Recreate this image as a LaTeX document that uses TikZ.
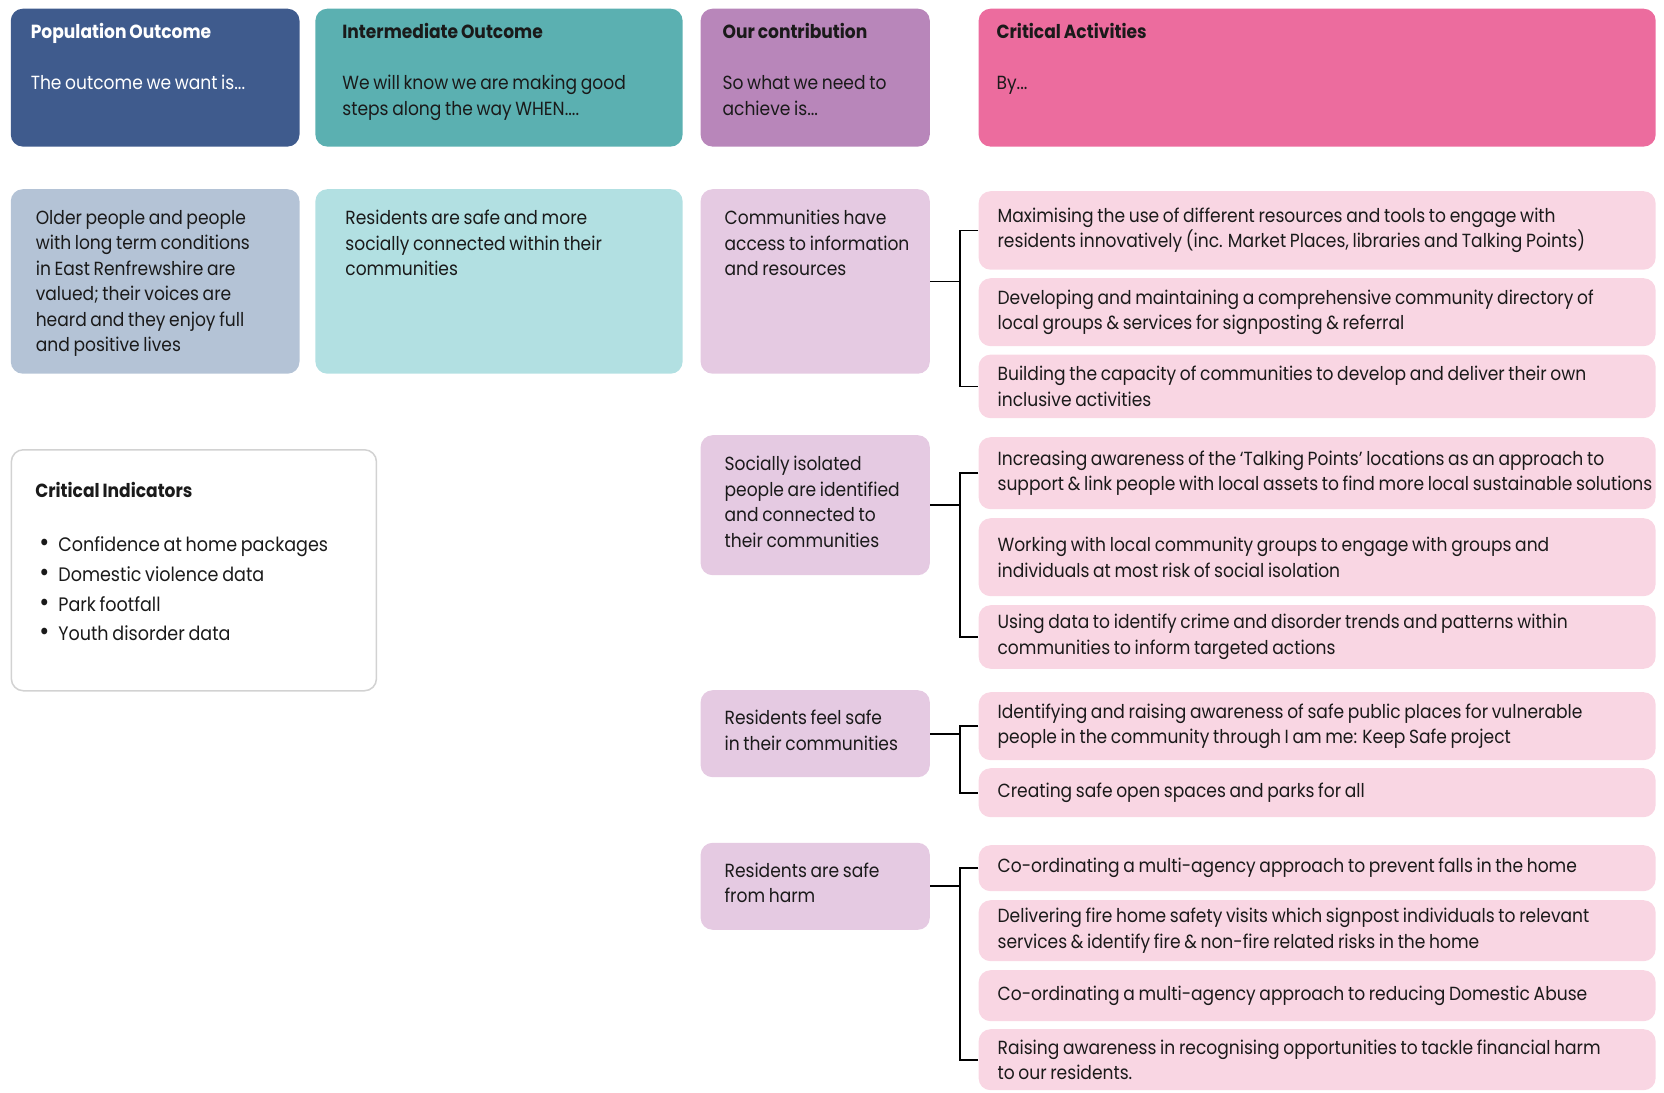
\documentclass[tikz,border=0pt]{standalone}
\usepackage{fontspec}
\setmainfont{Poppins}[FakeStretch=0.9,WordSpace=0.8]
\usepackage{tikz}
\usetikzlibrary{calc}

\definecolor{popdark}{HTML}{3F5B8D}
\definecolor{interteal}{HTML}{5BB0B1}
\definecolor{ourmauve}{HTML}{B886BA}
\definecolor{critpink}{HTML}{EC6C9E}
\definecolor{popfill}{HTML}{B4C3D6}
\definecolor{interfill}{HTML}{B2E0E2}
\definecolor{ourfill}{HTML}{E5CAE2}
\definecolor{actpink}{HTML}{F9D6E3}
\definecolor{framegray}{HTML}{D2D2D2}
\definecolor{ink}{HTML}{1A1A1A}

% top aligned text in a box of fixed size
\newcommand{\cellbox}[3]{\parbox[t][#2pt][t]{#1pt}{\raggedright #3}}
\newcommand{\actbox}[1]{\parbox{639pt}{\raggedright #1}}
\newcommand{\dotitem}{\hspace*{4pt}{\fontsize{27}{29.7}\selectfont\textbullet}\hspace{9pt}}

\begin{document}
\begin{tikzpicture}[x=1pt,y=-1pt,
	head/.style={anchor=north west,rounded corners=12pt,inner ysep=15pt,text=ink,font=\fontsize{19}{25.5}\selectfont},
	cell/.style={anchor=north west,rounded corners=12pt,inner ysep=21pt,text=ink,font=\fontsize{19}{25.5}\selectfont},
	act/.style={anchor=north west,rounded corners=12pt,fill=actpink,inner xsep=19pt,text=ink,font=\fontsize{19}{25.5}\selectfont},
	link/.style={draw=black,line width=1.8pt}]
	\useasboundingbox (0,0) rectangle (1664,1092);
	
	% header row
	\node[head,fill=popdark,text=white,inner xsep=20pt] (pophead) at (10.6,8.5)
		{\cellbox{248.7}{107.9}{\textbf{Population Outcome}\\[25.5pt]The outcome we want is...}};
	\node[head,fill=interteal,inner xsep=27pt] (interhead) at (315.2,8.5)
		{\cellbox{313.2}{107.9}{\textbf{Intermediate Outcome}\\[25.5pt]We will know we are making good\\steps along the way WHEN....}};
	\node[head,fill=ourmauve,inner xsep=22pt] (ourhead) at (700.4,8.5)
		{\cellbox{185.2}{107.9}{\textbf{Our contribution}\\[25.5pt]So what we need to\\achieve is...}};
	\node[head,fill=critpink,inner xsep=18pt] (crithead) at (978.4,8.5)
		{\cellbox{641.1}{107.9}{\textbf{Critical Activities}\\[25.5pt]By...}};
	
	% outcomes
	\node[cell,fill=popfill,inner xsep=25pt] (older) at (10.6,189)
		{\cellbox{238.7}{142.5}{Older people and people\\with long term conditions\\in East Renfrewshire are\\valued; their voices are\\heard and they enjoy full\\and positive lives}};
	\node[cell,fill=interfill,inner xsep=30pt] (safer) at (315.2,189)
		{\cellbox{307.2}{142.5}{Residents are safe and more\\socially connected within their\\communities}};
	\node[cell,fill=ourfill,inner xsep=24pt] (access) at (700.4,189)
		{\cellbox{181.2}{142.5}{Communities have\\\mbox{access to information}\\and resources}};
	\node[cell,fill=ourfill,inner xsep=24pt] (isolated) at (700.4,435)
		{\cellbox{181.2}{98}{Socially isolated\\people are identified\\and connected to\\their communities}};
	\node[cell,fill=ourfill,inner xsep=24pt,inner ysep=20pt] (feelsafe) at (700.4,690)
		{\cellbox{181.2}{47}{Residents feel safe\\in their communities}};
	\node[cell,fill=ourfill,inner xsep=24pt,inner ysep=20pt] (harm) at (700.4,842.6)
		{\cellbox{181.2}{47}{Residents are safe\\from harm}};
	
	% indicators
	\node[cell,fill=white,draw=framegray,line width=1.5pt,inner xsep=24pt,inner ysep=33pt,font=\fontsize{19.5}{29.7}\selectfont] (indic) at (10.6,449)
		{\cellbox{317.1}{175}{{\fontsize{19}{25.5}\selectfont\bfseries Critical Indicators}\\[24pt]
		\dotitem Confidence at home packages\\
		\dotitem Domestic violence data\\
		\dotitem Park footfall\\
		\dotitem Youth disorder data}};
	
	% activities
	\node[act,minimum height=78.5pt] (a1) at (978.4,191) {\actbox{Maximising the use of different resources and tools to engage with\\residents innovatively (inc. Market Places, libraries and Talking Points)}};
	\node[act,minimum height=68pt] (a2) at (978.4,278) {\actbox{Developing and maintaining a comprehensive community directory of\\local groups \& services for signposting \& referral}};
	\node[act,minimum height=63.6pt] (a3) at (978.4,354.4) {\actbox{Building the capacity of communities to develop and deliver their own\\inclusive activities}};
	\node[act,minimum height=72pt] (b1) at (978.4,437) {\actbox{Increasing awareness of the ‘Talking Points’ locations as an approach to\\\mbox{support \& link people with local assets to find more local sustainable solutions}}};
	\node[act,minimum height=78pt] (b2) at (978.4,518) {\actbox{Working with local community groups to engage with groups and\\individuals at most risk of social isolation}};
	\node[act,minimum height=63.6pt] (b3) at (978.4,605) {\actbox{Using data to identify crime and disorder trends and patterns within\\communities to inform targeted actions}};
	\node[act,minimum height=68pt] (c1) at (978.4,692) {\actbox{Identifying and raising awareness of safe public places for vulnerable\\people in the community through I am me: Keep Safe project}};
	\node[act,minimum height=49pt] (c2) at (978.4,768) {\actbox{Creating safe open spaces and parks for all}};
	\node[act,minimum height=46pt] (d1) at (978.4,845) {\actbox{Co-ordinating a multi-agency approach to prevent falls in the home}};
	\node[act,minimum height=61pt] (d2) at (978.4,900) {\actbox{Delivering fire home safety visits which signpost individuals to relevant\\services \& identify fire \& non-fire related risks in the home}};
	\node[act,minimum height=51pt] (d3) at (978.4,970) {\actbox{Co-ordinating a multi-agency approach to reducing Domestic Abuse}};
	\node[act,minimum height=61pt] (d4) at (978.4,1029) {\actbox{Raising awareness in recognising opportunities to tackle financial harm\\to our residents.}};
	
	% brackets
	\draw[link] (access.east) -- ++(29.7,0) coordinate (j1);
	\draw[link] (a1.west) -| (j1) |- (a3.west);
	\draw[link] (isolated.east) -- ++(29.7,0) coordinate (j2);
	\draw[link] (b1.west) -| (j2) |- (b3.west);
	\draw[link] (feelsafe.east) -- ++(29.7,0) coordinate (j3);
	\draw[link] (c1.west) -| (j3) |- (c2.west);
	\draw[link] (harm.east) -- ++(29.7,0) coordinate (j4);
	\draw[link] (d1.west) -| (j4) |- (d4.west);
\end{tikzpicture}
\end{document}
